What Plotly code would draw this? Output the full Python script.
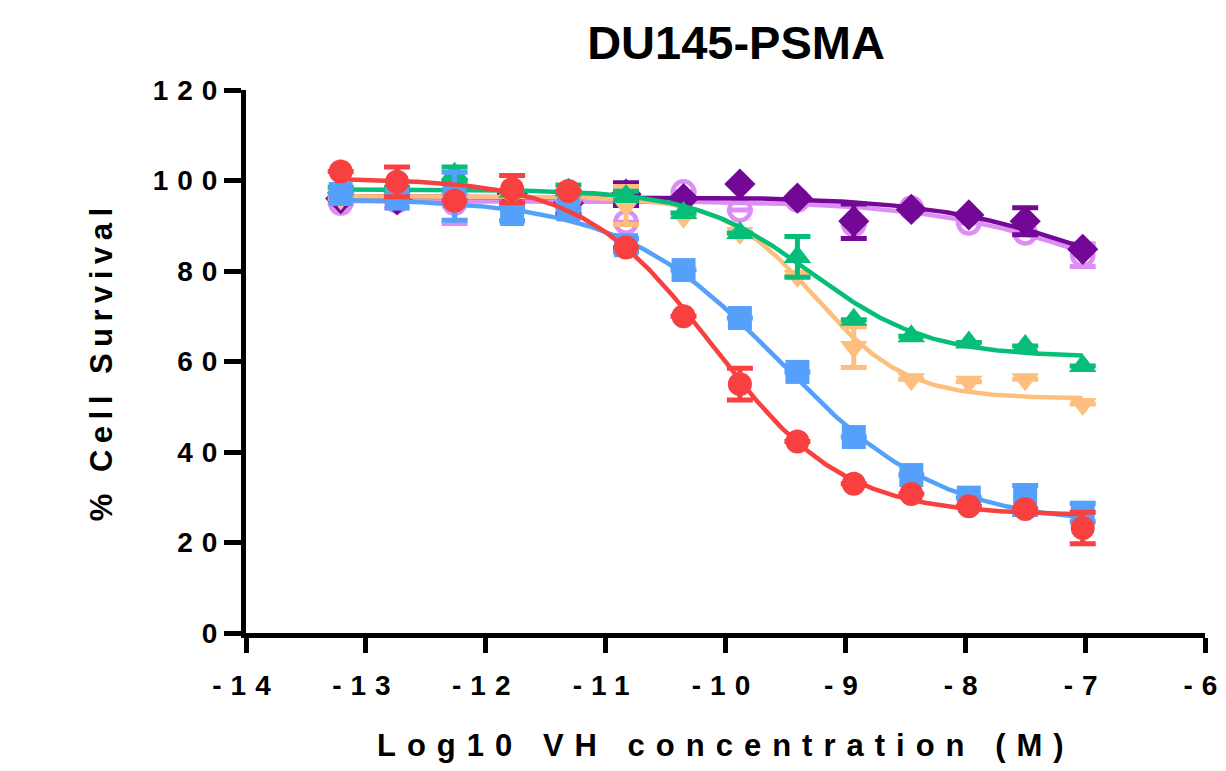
import numpy as np
import plotly.graph_objects as go

# ---------------- data ----------------
log_conc = [-13.21, -12.74, -12.26, -11.78, -11.31, -10.83, -10.35, -9.88,
            -9.40, -8.93, -8.45, -7.97, -7.50, -7.02]

red_y    = [102.0, 99.7, 95.5, 98.1, 97.7, 85.2, 70.0, 55.0, 42.3, 33.0, 30.7, 28.0, 27.4, 23.2]
red_err  = [0, 3.3, 0, 3.0, 0, 0, 0, 3.5, 0, 0, 0, 0, 0, 3.5]
blue_y   = [97.0, 96.0, 96.5, 92.6, 93.6, 85.7, 80.2, 69.6, 57.7, 43.3, 34.9, 29.9, 29.4, 26.6]
blue_err = [0, 0, 5.3, 1.5, 0, 1.5, 0, 0, 0, 0, 0, 0, 3.2, 2.0]
orange_y   = [96.0, 96.5, 96.0, 96.5, 95.5, 94.5, 92.0, 88.4, 78.9, 63.2, 56.1, 55.5, 56.1, 50.6]
orange_err = [0, 0, 1.0, 0, 0, 4.2, 0, 0, 0, 4.5, 0, 0, 0, 0]
green_y   = [98.5, 98.5, 101.5, 97.5, 98.0, 96.6, 92.8, 88.4, 83.1, 69.2, 65.6, 64.2, 63.4, 59.0]
green_err = [0, 0, 1.5, 0, 1.0, 1.0, 0, 0, 4.5, 0, 0, 0, 0, 0]
purple_y   = [96.0, 95.7, 96.5, 97.0, 95.0, 97.0, 96.0, 99.2, 96.1, 91.0, 93.6, 92.4, 91.0, 84.8]
purple_err = [0, 0, 0, 0, 2.5, 2.5, 0, 0, 0, 3.8, 0, 0, 3.0, 0]
lav_y   = [95.0, 95.5, 95.0, 95.6, 94.6, 90.8, 97.5, 93.5, 95.7, 90.3, 93.9, 90.6, 88.4, 83.5]
lav_err = [0, 1.5, 4.5, 0, 0, 0, 0, 0, 0, 0, 0, 0, 0, 2.5]

# fitted 4-parameter logistic parameters: top, bottom, logIC50, hill
red_fit    = [100.5, 26.0, -10.10, 0.80]
blue_fit   = [96.0, 24.0, -9.55, 0.65]
orange_fit = [96.5, 51.8, -9.25, 1.15]
green_fit  = [98.0, 61.0, -9.28, 0.90]
purple_fit = [96.5, 70.0, -6.80, 0.60]
lav_fit    = [95.5, 70.0, -6.85, 0.60]

x_ticks = [-14, -13, -12, -11, -10, -9, -8, -7, -6]
y_ticks = [0, 20, 40, 60, 80, 100, 120]

FONT = "Liberation Sans, Arial, sans-serif"

series = [
    # name, y, err, fit, color, symbol, open
    ("Lavender", lav_y, lav_err, lav_fit, "#DD8EF5", "circle-open", True),
    ("Purple", purple_y, purple_err, purple_fit, "#730896", "diamond", False),
    ("Orange", orange_y, orange_err, orange_fit, "#FDBE7E", "triangle-down", False),
    ("Green", green_y, green_err, green_fit, "#07BE78", "triangle-up", False),
    ("Blue", blue_y, blue_err, blue_fit, "#55A0FB", "square", False),
    ("Red", red_y, red_err, red_fit, "#F84040", "circle", False),
]


def four_pl(x, p):
    top, bottom, ic50, hill = p
    return bottom + (top - bottom) / (1.0 + 10.0 ** ((x - ic50) * hill))


fig = go.Figure()
xs = np.linspace(min(log_conc), max(log_conc), 300)
for name, y, err, fit, color, symbol, is_open in series:
    fig.add_trace(go.Scatter(
        x=xs, y=four_pl(xs, fit), mode="lines",
        line=dict(color=color, width=4.5), hoverinfo="skip",
        showlegend=False, cliponaxis=False,
    ))
    if is_open:
        marker = dict(symbol=symbol, size=21, color=color, line=dict(color=color, width=4.5))
    else:
        marker = dict(symbol=symbol, size=24, color=color, line=dict(width=0))
    fig.add_trace(go.Scatter(
        x=log_conc, y=y, mode="markers", name=name,
        marker=marker,
        error_y=dict(type="data", array=err, visible=True, color=color,
                     thickness=5, width=13),
        showlegend=False, cliponaxis=False,
    ))

W, H = 1226, 771
L, R, T, B = 246, 21, 90, 138
fig.update_layout(
    template="none",
    width=W, height=H,
    margin=dict(l=L, r=R, t=T, b=B, autoexpand=False),
    paper_bgcolor="white", plot_bgcolor="white",
    showlegend=False,
    font=dict(family=FONT, color="black"),
    title=dict(text="DU145-PSMA", x=736 / W, xref="container", xanchor="center",
               y=1 - 43 / H, yref="container", yanchor="middle",
               font=dict(family=FONT, size=47, color="black", weight="bold")),
    xaxis=dict(range=[-14, -6], tickvals=x_ticks, ticktext=[str(v) for v in x_ticks],
               automargin=False,
               showgrid=False, zeroline=False, showline=True, linecolor="black",
               linewidth=5, ticks="outside", ticklen=15, tickwidth=5, tickcolor="black",
               tickfont=dict(family=FONT, size=28, color="black", weight="bold"),
               ticklabelstandoff=8),
    yaxis=dict(range=[0, 120], tickvals=y_ticks, ticktext=[str(v) for v in y_ticks],
               automargin=False,
               showgrid=False, zeroline=False, showline=True, linecolor="black",
               linewidth=5, ticks="outside", ticklen=17, tickwidth=5, tickcolor="black",
               tickfont=dict(family=FONT, size=28, color="black", weight="bold"),
               ticklabelstandoff=-8),
    annotations=[
        dict(text="Log10 VH concentration (M)", xref="paper", yref="paper",
             x=0.5, y=(633 - 745) / (H - T - B), xanchor="center", yanchor="middle",
             showarrow=False,
             font=dict(family=FONT, size=31, color="black", weight="bold")),
        dict(text="% Cell Survival", xref="paper", yref="paper",
             x=(101 - L) / (W - L - R), y=0.5, xanchor="center", yanchor="middle",
             textangle=-90, showarrow=False,
             font=dict(family=FONT, size=31, color="black", weight="bold")),
    ],
)

post = """
document.body.style.margin = '0';
var gd = document.getElementById('{plot_id}');
function spacing(){
  gd.querySelectorAll('.xtick text, .ytick text').forEach(function(t){ t.style.letterSpacing = '9px'; });
  var a0 = gd.querySelector('.annotation[data-index="0"] text');
  if (a0) a0.style.letterSpacing = '11px';
  var a1 = gd.querySelector('.annotation[data-index="1"] text');
  if (a1) a1.style.letterSpacing = '6.5px';
}
spacing();
if (gd.on) gd.on('plotly_afterplot', spacing);
"""

fig.write_html("out.html", post_script=post, config={"displayModeBar": False})
